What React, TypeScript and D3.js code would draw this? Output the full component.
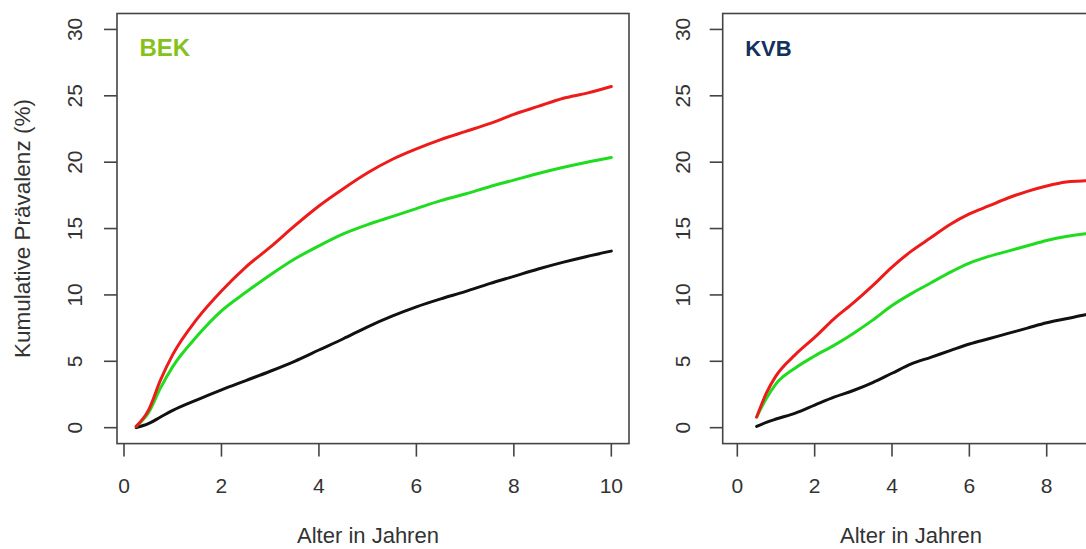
import React from "react";
import * as d3 from "d3";

const ages = [0.25, 0.5, 0.75, 1, 1.5, 2, 2.5, 3, 3.5, 4, 4.5, 5, 5.5, 6, 6.5, 7, 7.5, 8, 8.5, 9, 9.5, 10];
const bekRed = [0.1, 1.3, 3.6, 5.5, 8.2, 10.3, 12.1, 13.6, 15.2, 16.7, 18.0, 19.2, 20.2, 21.0, 21.7, 22.3, 22.9, 23.6, 24.2, 24.8, 25.2, 25.7];
const bekGreen = [0.1, 1.1, 3.0, 4.6, 6.9, 8.8, 10.2, 11.5, 12.7, 13.7, 14.6, 15.3, 15.9, 16.5, 17.1, 17.6, 18.15, 18.65, 19.15, 19.6, 20.0, 20.35];
const bekBlack = [0.0, 0.3, 0.8, 1.3, 2.1, 2.85, 3.55, 4.25, 5.0, 5.85, 6.7, 7.6, 8.4, 9.1, 9.7, 10.25, 10.85, 11.4, 11.95, 12.45, 12.9, 13.3];

const kvbAges = [0.5, 0.75, 1, 1.5, 2, 2.5, 3, 3.5, 4, 4.5, 5, 5.5, 6, 6.5, 7, 7.5, 8, 8.5, 9, 9.5];
const kvbRed = [0.8, 2.6, 3.9, 5.5, 6.8, 8.2, 9.4, 10.7, 12.1, 13.3, 14.3, 15.3, 16.1, 16.7, 17.3, 17.8, 18.2, 18.5, 18.6, 18.8];
const kvbGreen = [0.8, 2.2, 3.3, 4.5, 5.4, 6.2, 7.1, 8.1, 9.2, 10.1, 10.9, 11.7, 12.4, 12.9, 13.3, 13.7, 14.1, 14.4, 14.6, 14.7];
const kvbBlack = [0.1, 0.4, 0.65, 1.1, 1.7, 2.3, 2.8, 3.4, 4.1, 4.8, 5.3, 5.8, 6.3, 6.7, 7.1, 7.5, 7.9, 8.2, 8.5, 8.7];

const yTicks = [0, 5, 10, 15, 20, 25, 30];
const bekXTicks = [0, 2, 4, 6, 8, 10];
const kvbXTicks = [0, 2, 4, 6, 8];

const FONT = "'Liberation Sans', Arial, sans-serif";
const AXIS = "#444";
const TEXT = "#333";

type Series = { x: number[]; y: number[]; color: string };

function Panel(props: {
  left: number; right: number; xDomain: [number, number]; xTicks: number[];
  series: Series[]; label: string; labelColor: string; labelSize: number;
  tickLabelX: number; showYTitle: boolean; xTitleX: number;
}) {
  const top = 13.5, bottom = 443.6;
  const x = d3.scaleLinear().domain(props.xDomain).range([props.left, props.right]);
  const y = d3.scaleLinear().domain([-1.2, 31.2]).range([bottom, top]);
  const line = d3.line<[number, number]>().x(d => x(d[0])).y(d => y(d[1])).curve(d3.curveMonotoneX);
  const clipId = "clip" + props.label;
  return (
    <g>
      <defs>
        <clipPath id={clipId}>
          <rect x={props.left} y={top} width={props.right - props.left} height={bottom - top} />
        </clipPath>
      </defs>
      <g clipPath={`url(#${clipId})`}>
        {props.series.map((s, i) => (
          <path key={i} d={line(s.x.map((v, j) => [v, s.y[j]] as [number, number])) || ""}
            fill="none" stroke={s.color} strokeWidth={3} strokeLinejoin="round" strokeLinecap="round" />
        ))}
      </g>
      <rect x={props.left} y={top} width={props.right - props.left} height={bottom - top}
        fill="none" stroke={AXIS} strokeWidth={1.6} />
      {yTicks.map(t => (
        <g key={"y" + t}>
          <line x1={props.left - 13} x2={props.left} y1={y(t)} y2={y(t)} stroke={AXIS} strokeWidth={1.6} />
          <text transform={`translate(${props.tickLabelX},${y(t)}) rotate(-90)`} textAnchor="middle"
            fontSize={21} fill={TEXT} fontFamily={FONT}>{t}</text>
        </g>
      ))}
      {props.xTicks.map(t => (
        <g key={"x" + t}>
          <line x1={x(t)} x2={x(t)} y1={bottom} y2={bottom + 13} stroke={AXIS} strokeWidth={1.6} />
          <text x={x(t)} y={493} textAnchor="middle" fontSize={21} fill={TEXT} fontFamily={FONT}>{t}</text>
        </g>
      ))}
      <text x={props.xTitleX} y={543} textAnchor="middle" fontSize={22} fill={TEXT} fontFamily={FONT}>Alter in Jahren</text>
      {props.showYTitle && (
        <text transform={`translate(30,${(top + bottom) / 2}) rotate(-90)`} textAnchor="middle"
          fontSize={22.5} fill={TEXT} fontFamily={FONT}>Kumulative Prävalenz (%)</text>
      )}
      <text x={props.left + 22.5} y={56} fontSize={props.labelSize} fontWeight="bold" fill={props.labelColor} fontFamily={FONT}>{props.label}</text>
    </g>
  );
}

export default function App() {
  const RED = "#ee1b1b";
  const GREEN = "#1fdc1f";
  const BLACK = "#111111";
  return (
    <svg width={1086} height={549} style={{ position: "absolute", left: 0, top: 0, background: "#fff" }}>
      <rect x={0} y={0} width={1086} height={549} fill="#fff" />
      <Panel left={117} right={629} xDomain={[-0.1437, 10.363]} xTicks={bekXTicks}
        series={[
          { x: ages, y: bekBlack, color: BLACK },
          { x: ages, y: bekGreen, color: GREEN },
          { x: ages, y: bekRed, color: RED },
        ]}
        label="BEK" labelColor="#86c21a" labelSize={24} tickLabelX={81.5} showYTitle={true} xTitleX={368} />
      <Panel left={722.7} right={1099.3} xDomain={[-0.378, 9.36]} xTicks={kvbXTicks}
        series={[
          { x: kvbAges, y: kvbBlack, color: BLACK },
          { x: kvbAges, y: kvbGreen, color: GREEN },
          { x: kvbAges, y: kvbRed, color: RED },
        ]}
        label="KVB" labelColor="#14305e" labelSize={22} tickLabelX={690} showYTitle={false} xTitleX={911} />
    </svg>
  );
}
